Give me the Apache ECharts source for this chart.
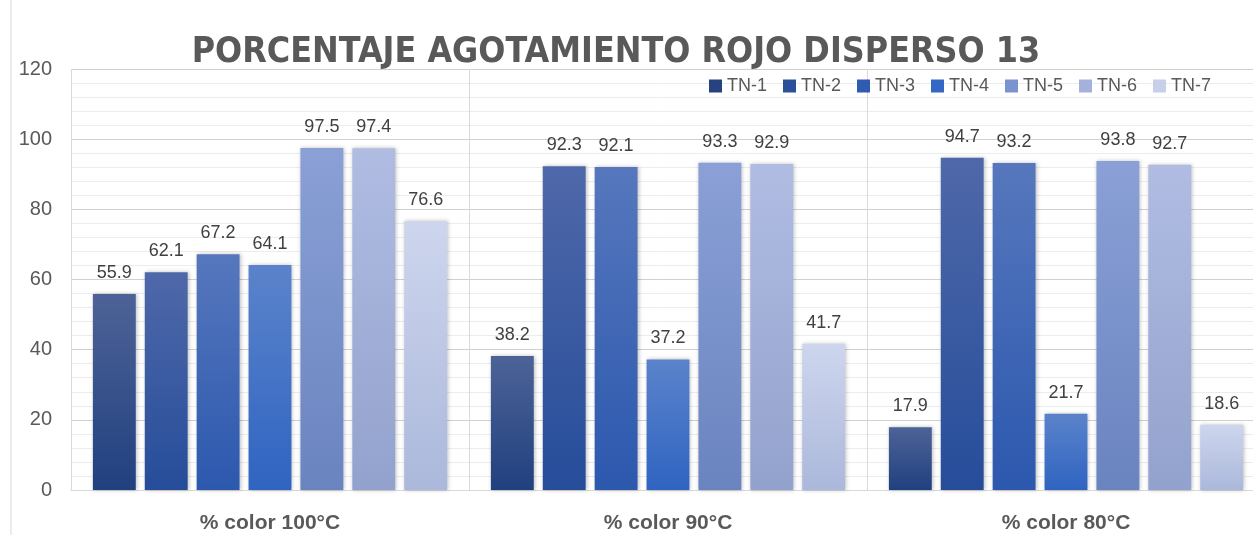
<!DOCTYPE html>
<html><head><meta charset="utf-8">
<script src="https://cdn.jsdelivr.net/npm/echarts@6/dist/echarts.min.js"></script>
<style>html,body{margin:0;padding:0;background:#fff;}#c{width:1253px;height:535px;}</style>
</head><body><div id="c"></div>
<script>
const categories = ['% color 100°C', '% color 90°C', '% color 80°C'];
const seriesNames = ['TN-1', 'TN-2', 'TN-3', 'TN-4', 'TN-5', 'TN-6', 'TN-7'];
const tn1 = [55.9, 38.2, 17.9];
const tn2 = [62.1, 92.3, 94.7];
const tn3 = [67.2, 92.1, 93.2];
const tn4 = [64.1, 37.2, 21.7];
const tn5 = [97.5, 93.3, 93.8];
const tn6 = [97.4, 92.9, 92.7];
const tn7 = [76.6, 41.7, 18.6];
const values = [tn1, tn2, tn3, tn4, tn5, tn6, tn7];
const yTicks = [0, 20, 40, 60, 80, 100, 120];

const gradTop = ['#4d6397', '#4f68a9', '#5677bd', '#5b83cb', '#8aa0d6', '#b0bce2', '#ced6ee'];
const gradBot = ['#21407f', '#264d9a', '#2c58ae', '#2f64c1', '#6a84c0', '#93a2cd', '#abb8db'];
const legendCol = ['#27437f', '#2b4f99', '#2f5bb0', '#3468c4', '#7b93cf', '#a4b1da', '#c7cfe9'];

const chart = echarts.init(document.getElementById('c'));
chart.setOption({
  backgroundColor: '#ffffff',
  animation: false,
  title: {
    text: 'PORCENTAJE AGOTAMIENTO ROJO DISPERSO 13',
    left: 611, textAlign: 'center', top: 30,
    textStyle: { fontFamily: '"DejaVu Sans Condensed", "DejaVu Sans", sans-serif', fontWeight: 'bold', fontSize: 35.5, color: '#595959' }
  },
  legend: {
    data: seriesNames.map((n, i) => ({ name: n, itemStyle: { color: legendCol[i] } })),
    left: 704, top: 72, width: 700,
    itemWidth: 13, itemHeight: 13, itemGap: 16,
    icon: 'rect',
    textStyle: { fontFamily: 'Liberation Sans', fontSize: 18, color: '#595959' }
  },
  grid: { left: 71, top: 69, width: 1194, bottom: 45, containLabel: false, outerBoundsMode: 'none' },
  xAxis: {
    type: 'category', data: categories,
    axisLine: { show: true, lineStyle: { color: '#d9d9d9' } },
    axisTick: { show: false },
    splitLine: { show: true, lineStyle: { color: '#d9d9d9', width: 1 } },
    axisLabel: { fontFamily: 'Liberation Sans', fontWeight: 'bold', fontSize: 21, color: '#595959', margin: 23 }
  },
  yAxis: {
    type: 'value', min: yTicks[0], max: yTicks[yTicks.length - 1], interval: 20,
    axisLine: { show: false }, axisTick: { show: false },
    splitLine: { lineStyle: { color: '#d0d0d0' } },
    minorTick: { show: false, splitNumber: 5 },
    minorSplitLine: { show: true, lineStyle: { color: '#ececec' } },
    axisLabel: { fontFamily: 'Liberation Sans', fontSize: 20, color: '#595959', margin: 19 }
  },
  graphic: [{
    type: 'line', shape: { x1: 11, y1: 0, x2: 11, y2: 535 },
    style: { stroke: '#d9d9d9', lineWidth: 1 }
  }],
  series: seriesNames.map((n, i) => ({
    name: n, type: 'bar', data: values[i],
    barGap: '21%', barCategoryGap: '11%',
    itemStyle: {
      color: new echarts.graphic.LinearGradient(0, 0, 0, 1, [
        { offset: 0, color: gradTop[i] }, { offset: 1, color: gradBot[i] }
      ]),
      shadowColor: 'rgba(0,0,0,0.25)', shadowBlur: 4, shadowOffsetX: 1, shadowOffsetY: 0
    },
    label: {
      show: true, position: 'top', distance: 12,
      fontFamily: 'Liberation Sans', fontSize: 18, color: '#404040',
      formatter: p => p.value.toFixed(1)
    }
  }))
});
</script></body></html>
